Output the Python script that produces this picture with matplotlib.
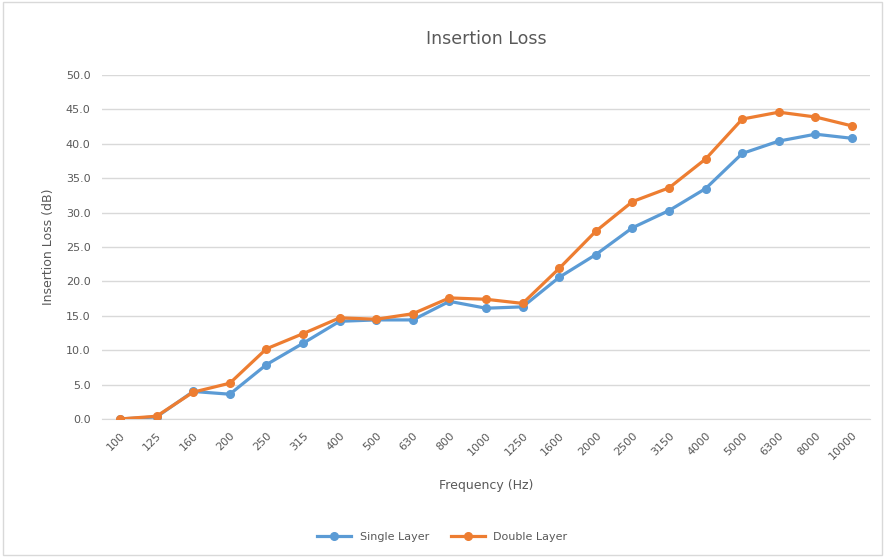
import matplotlib.pyplot as plt
from matplotlib.patches import Rectangle

freqs = ['100', '125', '160', '200', '250', '315', '400', '500', '630', '800', '1000',
         '1250', '1600', '2000', '2500', '3150', '4000', '5000', '6300', '8000', '10000']
single_layer = [0.0, 0.3, 4.0, 3.6, 7.9, 11.0, 14.2, 14.4, 14.4, 17.1, 16.1,
                16.3, 20.6, 23.9, 27.8, 30.3, 33.5, 38.6, 40.4, 41.4, 40.8]
double_layer = [0.0, 0.4, 3.9, 5.2, 10.2, 12.4, 14.7, 14.5, 15.3, 17.6, 17.4,
                16.8, 21.9, 27.3, 31.6, 33.6, 37.8, 43.6, 44.6, 43.9, 42.6]

blue = '#5B9BD5'
orange = '#ED7D31'
txt = '#595959'

fig = plt.figure(figsize=(8.85, 5.57), dpi=100)
# chart border
fig.patches.append(Rectangle((0.003, 0.003), 0.994, 0.994, transform=fig.transFigure,
                             fill=False, edgecolor='#D9D9D9', linewidth=1))
ax = fig.add_axes([0.1149, 0.2478, 0.8686, 0.6175])

x = range(len(freqs))
ax.plot(x, single_layer, color=blue, lw=2.3, marker='o', ms=5.5, label='Single Layer', zorder=3)
ax.plot(x, double_layer, color=orange, lw=2.3, marker='o', ms=5.5, label='Double Layer', zorder=4)

ax.set_xlim(-0.5, len(freqs) - 0.5)
ax.set_ylim(0, 50)
ax.set_yticks(range(0, 51, 5))
ax.set_yticklabels([f'{v:.1f}' for v in range(0, 51, 5)])
ax.set_xticks(list(x))
ax.set_xticklabels(freqs, rotation=45, ha='right', rotation_mode='anchor')
ax.grid(axis='y', color='#D9D9D9', lw=1)
ax.set_axisbelow(True)
for s in ['top', 'right', 'left']:
    ax.spines[s].set_visible(False)
ax.spines['bottom'].set_color('#D9D9D9')
ax.tick_params(length=0, colors=txt, labelsize=8, pad=8)
ax.set_ylabel('Insertion Loss (dB)', color=txt, fontsize=9, labelpad=8)
ax.set_xlabel('Frequency (Hz)', color=txt, fontsize=9, labelpad=12)
ax.set_title('Insertion Loss', color=txt, fontsize=12.5, pad=22)

fig.legend(loc='center', bbox_to_anchor=(0.5, 0.036), ncol=2, frameon=False,
           fontsize=8, labelcolor=txt, handlelength=3, columnspacing=2)

plt.savefig('out.png')
